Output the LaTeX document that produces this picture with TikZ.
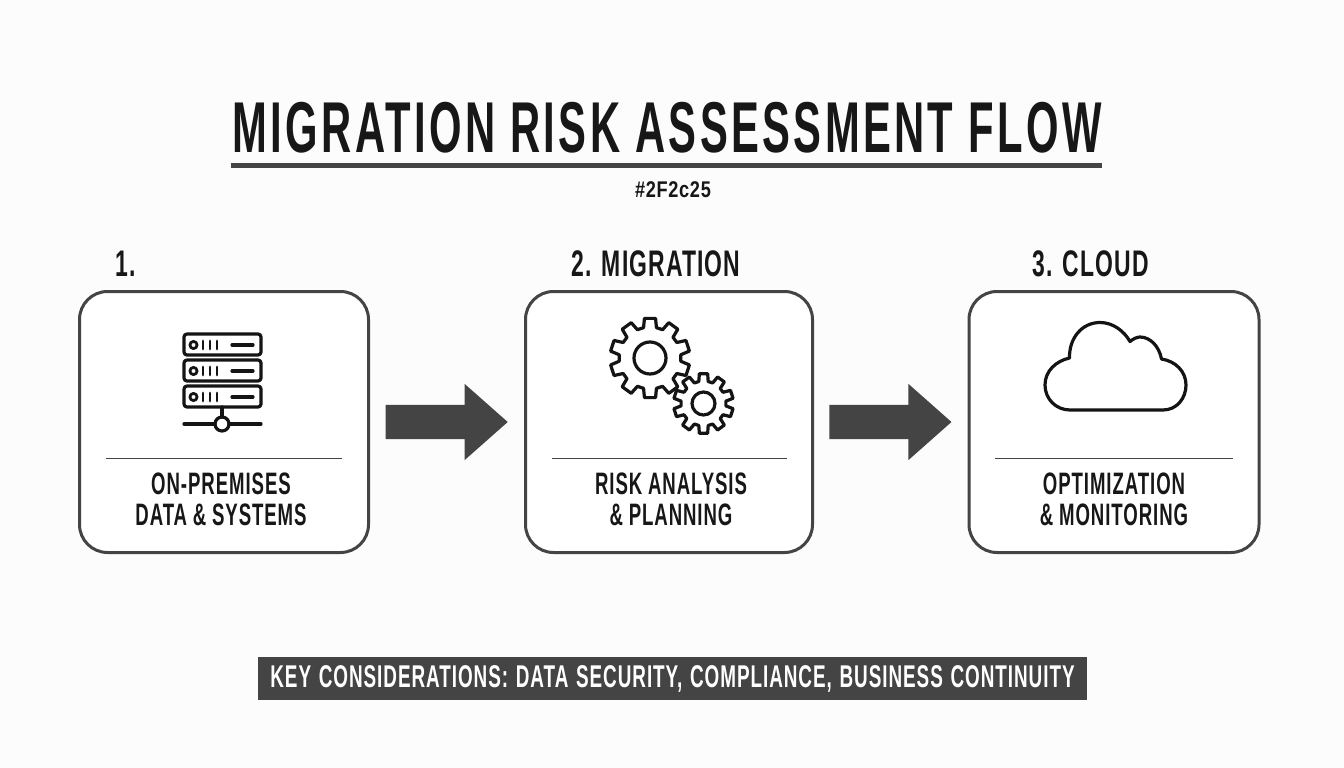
\documentclass[tikz,border=0pt]{standalone}
\usepackage{fontspec}
\setmainfont{Liberation Sans}[BoldFont={* Bold}]
\usetikzlibrary{shapes.arrows,calc}
\definecolor{ink}{HTML}{444444}
\definecolor{txt}{HTML}{171717}
\newfontfamily\condT[FakeStretch=0.58,LetterSpace=4.7]{Liberation Sans Bold}
\newfontfamily\condF[FakeStretch=0.601,LetterSpace=3,WordSpace=1.25]{Liberation Sans Bold}
\newfontfamily\condB[FakeStretch=0.60,LetterSpace=3,WordSpace=0.95]{Liberation Sans Bold}
\newfontfamily\condN[FakeStretch=0.62,LetterSpace=3]{Liberation Sans Bold}
\newfontfamily\condS[FakeStretch=0.80,LetterSpace=3]{Liberation Sans Bold}
\newcommand{\gearshape}[2]{\draw[icon] ({90-12}:#1) foreach \i in {0,...,9} { -- ({90+\i*36-12}:#1) -- ({90+\i*36-8}:#2) -- ({90+\i*36+8}:#2) -- ({90+\i*36+12}:#1) } -- cycle;}
\tikzset{
  card/.style={draw=ink,line width=3pt,rounded corners=28pt,minimum height=261pt,inner sep=0,fill=white},
  blockarrow/.style={single arrow,fill=ink,draw=none,inner sep=0,text height=34pt,text depth=0pt,text width=0pt,minimum height=122pt,single arrow head extend=21pt,single arrow tip angle=83,single arrow head indent=0pt,xshift=-10pt},
  icon/.style={draw=black!92,line width=3.2pt,line join=round,line cap=round},
  rule/.style={draw=ink,line width=0.9pt},
  lab/.style={text=txt,inner sep=0,align=center,font=\fontsize{31}{31}\selectfont\condB},
  num/.style={text=txt,inner sep=0,font=\fontsize{37}{37}\selectfont\condN},
  rackbox/.style={icon,rounded corners=3pt}
}
\begin{document}
\begin{tikzpicture}[x=1pt,y=-1pt]
\useasboundingbox (0,0) rectangle (1344,768);
\fill[white!99!black] (0,0) rectangle (1344,768);
\node[text=txt,inner sep=0,font=\fontsize{72}{72}\selectfont\condT] (title) at (667,128) {MIGRATION RISK ASSESSMENT FLOW};
\fill[ink] (231,163) rectangle (1102,168);
\node[text=txt,inner sep=0,font=\fontsize{22.7}{22.7}\selectfont\condS] (sub) at (673,190) {\#2F2c25};

\node[card,minimum width=289pt] (a) at (224,422) {};
\node[card,minimum width=287pt] (b) at (669,422) {};
\node[card,minimum width=290pt] (c) at (1114,422) {};

\node[num] (n1) at (126,264) {1.};
\node[num] (n2) at (656,264) {2. MIGRATION};
\node[num] (n3) at (1090.5,264) {3. CLOUD};

\node[blockarrow] (ab) at ($(a.east)!.5!(b.west)$) {};
\node[blockarrow] (bc) at ($(b.east)!.5!(c.west)$) {};

% server
\foreach \y in {334,360,386}{
  \draw[rackbox] (184,\y) rectangle (261,\y+21);
  \draw[icon,line width=2.8pt] (193.5,\y+11) circle (3.6);
  \foreach \x in {203,210,217}{\draw[icon,line width=2.8pt] (\x,\y+7) -- (\x,\y+15);}
  \draw[icon] (232,\y+11) -- (253,\y+11);
}
\draw[icon] (222,407) -- (222,417);
\draw[icon] (184,424) -- (215,424);
\draw[icon] (229,424) -- (261,424);
\draw[icon] (222,424) circle (7);

% gears
\begin{scope}[shift={(650,358)}]
\gearshape{31}{40}
\draw[icon] (0,0) circle (16);
\end{scope}
\begin{scope}[shift={(703.5,403.5)}]
\gearshape{22.5}{30}
\draw[icon] (0,0) circle (11.5);
\end{scope}

% cloud
\draw[icon] (1163,410) .. controls (1177,410) and (1186,398) .. (1186,385)
  .. controls (1186,371) and (1175,361) .. (1161.5,359)
  .. controls (1159,346) and (1150,337) .. (1140,337)
  .. controls (1137,337) and (1133,339) .. (1130,341.5)
  .. controls (1124,331) and (1113,322.5) .. (1100,322.5)
  .. controls (1082,322.5) and (1069,338) .. (1069.5,358)
  .. controls (1056,361) and (1045,371) .. (1045,385)
  .. controls (1045,399) and (1056,410) .. (1070,410) -- cycle;

\draw[rule] (106,458.5) -- (342,458.5);
\draw[rule] (552,458.5) -- (787,458.5);
\draw[rule] (995,458.5) -- (1233,458.5);

\node[lab] (t1a) at (221,484) {ON-PREMISES};
\node[lab] (t1b) at (221,515) {DATA \& SYSTEMS};
\node[lab] (t2a) at (671,484) {RISK ANALYSIS};
\node[lab] (t2b) at (671,515) {\& PLANNING};
\node[lab] (t3a) at (1114,484) {OPTIMIZATION};
\node[lab] (t3b) at (1114,515) {\& MONITORING};

\fill[ink] (258,657) rectangle (1087,700);
\node[text=white,inner sep=0,font=\fontsize{31.45}{31.45}\selectfont\condF] (foot) at (672.5,678.5) {KEY CONSIDERATIONS: DATA SECURITY, COMPLIANCE, BUSINESS CONTINUITY};
\end{tikzpicture}
\end{document}
